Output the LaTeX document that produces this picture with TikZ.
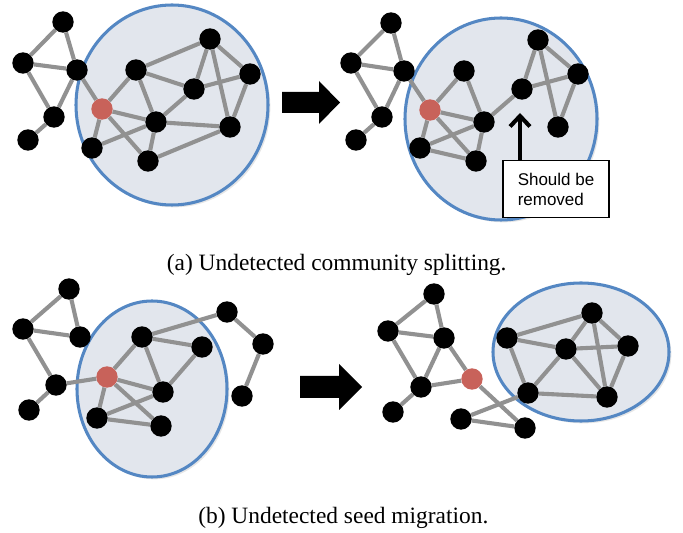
\documentclass[tikz,border=0pt]{standalone}
\usepackage{fontspec}
\setmainfont{Liberation Serif}
\setsansfont{Liberation Sans}
\usepackage{tikz}
\usetikzlibrary{arrows.meta,shadows}
\pgfdeclarelayer{back}
\pgfdeclarelayer{bg}
\pgfsetlayers{back,bg,main}
\definecolor{linkgray}{RGB}{145,145,145}
\definecolor{comfill}{RGB}{226,230,237}
\definecolor{comline}{RGB}{84,135,195}
\definecolor{seedred}{RGB}{200,98,90}
\tikzset{
  vtx/.style={circle,fill=black,inner sep=0pt,minimum size=0.64cm},
  seed/.style={vtx,fill=seedred},
  link/.style={draw=linkgray,line width=3.5pt},
  community/.style={fill=comfill,draw=comline,line width=2.6pt,
    drop shadow={opacity=0.2,shadow xshift=2pt,shadow yshift=-2pt}},
  bigarrow/.style={fill=black},
  upmark/.style={draw=black,line width=3.5pt,-{Straight Barb[length=9pt,width=17pt]}},
  notebox/.style={draw=black,line width=1pt,fill=white,align=left,
    minimum width=3.18cm,minimum height=1.71cm,
    font=\sffamily\fontsize{14.5}{16.5}\selectfont},
  caption/.style={font=\fontsize{20}{24}\selectfont}
}
\begin{document}
\begin{tikzpicture}
        \useasboundingbox (0,0) rectangle (20.49cm,15.99cm);
        % (a) before
        \node (p0) [vtx] at (1.89cm, 15.33cm) {};
        \node (p1) [vtx] at (0.69cm, 14.10cm) {};
        \node (p2) [vtx] at (2.31cm, 13.89cm) {};
        \node (p3) [vtx] at (1.62cm, 12.48cm) {};
        \node (p4) [vtx] at (0.84cm, 11.79cm) {};
        \node (p5) [seed] at (3.06cm, 12.72cm) {};
        \node (p6) [vtx] at (4.08cm, 13.89cm) {};
        \node (p7) [vtx] at (6.30cm, 14.82cm) {};
        \node (p8) [vtx] at (7.50cm, 13.77cm) {};
        \node (p9) [vtx] at (5.82cm, 13.32cm) {};
        \node (p10) [vtx] at (4.68cm, 12.33cm) {};
        \node (p11) [vtx] at (6.90cm, 12.18cm) {};
        \node (p12) [vtx] at (2.76cm, 11.55cm) {};
        \node (p13) [vtx] at (4.44cm, 11.16cm) {};
        % (a) after
        \node (q0) [vtx] at (11.73cm, 15.30cm) {};
        \node (q1) [vtx] at (10.53cm, 14.10cm) {};
        \node (q2) [vtx] at (12.12cm, 13.86cm) {};
        \node (q3) [vtx] at (11.46cm, 12.48cm) {};
        \node (q4) [vtx] at (10.68cm, 11.79cm) {};
        \node (q5) [seed] at (12.90cm, 12.69cm) {};
        \node (q6) [vtx] at (13.92cm, 13.86cm) {};
        \node (q7) [vtx] at (16.14cm, 14.79cm) {};
        \node (q8) [vtx] at (17.34cm, 13.77cm) {};
        \node (q9) [vtx] at (15.66cm, 13.32cm) {};
        \node (q10) [vtx] at (14.52cm, 12.33cm) {};
        \node (q11) [vtx] at (16.74cm, 12.18cm) {};
        \node (q12) [vtx] at (12.60cm, 11.55cm) {};
        \node (q13) [vtx] at (14.28cm, 11.16cm) {};
        \node (rmv) [notebox] at (16.68cm, 10.31cm) {Should be\\removed};
        \coordinate (tip) at (15.60cm, 12.60cm);
        % (b) before
        \node (r0) [vtx] at (2.07cm, 7.32cm) {};
        \node (r1) [vtx] at (0.69cm, 6.12cm) {};
        \node (r2) [vtx] at (2.40cm, 5.88cm) {};
        \node (r3) [vtx] at (1.68cm, 4.44cm) {};
        \node (r4) [vtx] at (0.87cm, 3.69cm) {};
        \node (r5) [seed] at (3.21cm, 4.68cm) {};
        \node (r6) [vtx] at (4.26cm, 5.88cm) {};
        \node (r7) [vtx] at (6.06cm, 5.58cm) {};
        \node (r8) [vtx] at (4.89cm, 4.23cm) {};
        \node (r9) [vtx] at (2.91cm, 3.45cm) {};
        \node (r10) [vtx] at (4.83cm, 3.21cm) {};
        \node (r11) [vtx] at (6.81cm, 6.63cm) {};
        \node (r12) [vtx] at (7.89cm, 5.67cm) {};
        \node (r13) [vtx] at (7.26cm, 4.11cm) {};
        % (b) after
        \node (s0) [vtx] at (13.02cm, 7.17cm) {};
        \node (s1) [vtx] at (11.64cm, 6.06cm) {};
        \node (s2) [vtx] at (13.32cm, 5.85cm) {};
        \node (s3) [vtx] at (12.63cm, 4.38cm) {};
        \node (s4) [vtx] at (11.79cm, 3.63cm) {};
        \node (s5) [seed] at (14.16cm, 4.62cm) {};
        \node (s6) [vtx] at (13.83cm, 3.42cm) {};
        \node (s7) [vtx] at (15.75cm, 3.15cm) {};
        \node (s8) [vtx] at (15.21cm, 5.85cm) {};
        \node (s9) [vtx] at (17.76cm, 6.60cm) {};
        \node (s10) [vtx] at (16.98cm, 5.52cm) {};
        \node (s11) [vtx] at (18.84cm, 5.61cm) {};
        \node (s12) [vtx] at (15.84cm, 4.20cm) {};
        \node (s13) [vtx] at (18.21cm, 4.08cm) {};
        % captions
        \node (capa) [caption] at (10.10cm, 8.04cm) {(a) Undetected community splitting.};
        \node (capb) [caption] at (10.30cm, 0.45cm) {(b) Undetected seed migration.};
        % arrows between panels
        \fill [bigarrow] (8.46cm,13.23cm) -- (9.57cm,13.23cm) -- (9.57cm,13.56cm) -- (10.20cm,12.915cm)
                -- (9.57cm,12.27cm) -- (9.57cm,12.60cm) -- (8.46cm,12.60cm) -- cycle;
        \fill [bigarrow] (9.00cm,4.71cm) -- (10.17cm,4.71cm) -- (10.17cm,5.07cm) -- (10.86cm,4.38cm)
                -- (10.17cm,3.69cm) -- (10.17cm,4.05cm) -- (9.00cm,4.05cm) -- cycle;
        \draw [upmark] (rmv.north -| tip) -- (tip);
        \begin{pgfonlayer}{back}
                \draw [community] (5.16cm, 12.84cm) ellipse [x radius=2.88cm, y radius=3.00cm];
                \draw [community] (15.03cm, 12.42cm) ellipse [x radius=2.88cm, y radius=3.03cm];
                \draw [community] (4.56cm, 4.32cm) ellipse [x radius=2.25cm, y radius=2.64cm];
                \draw [community] (17.43cm, 5.43cm) ellipse [x radius=2.64cm, y radius=2.07cm];
        \end{pgfonlayer}
        \begin{pgfonlayer}{bg}
                \draw [link] (p0) edge (p1) (p0) edge (p2) (p1) edge (p2) (p1) edge (p3);
                \draw [link] (p2) edge (p3) (p3) edge (p4) (p2) edge (p5);
                \draw [link] (p5) edge (p6) (p5) edge (p10) (p5) edge (p12) (p5) edge (p13);
                \draw [link] (p6) edge (p7) (p6) edge (p9) (p6) edge (p10);
                \draw [link] (p7) edge (p9) (p7) edge (p8) (p7) edge (p11) (p9) edge (p8);
                \draw [link] (p9) edge (p10) (p10) edge (p11) (p10) edge (p13) (p10) edge (p12);
                \draw [link] (p13) edge (p11) (p8) edge (p11);
                \draw [link] (q0) edge (q1) (q0) edge (q2) (q1) edge (q2) (q1) edge (q3);
                \draw [link] (q2) edge (q3) (q3) edge (q4) (q2) edge (q5);
                \draw [link] (q5) edge (q6) (q5) edge (q10) (q5) edge (q12) (q5) edge (q13);
                \draw [link] (q6) edge (q10) (q12) edge (q10) (q12) edge (q13) (q10) edge (q13);
                \draw [link] (q10) edge (q9) (q9) edge (q7) (q9) edge (q8);
                \draw [link] (q7) edge (q8) (q7) edge (q11) (q8) edge (q11);
                \draw [link] (r0) edge (r1) (r0) edge (r2) (r1) edge (r2) (r1) edge (r3);
                \draw [link] (r3) edge (r4) (r3) edge (r5);
                \draw [link] (r5) edge (r6) (r5) edge (r8) (r5) edge (r9) (r5) edge (r10);
                \draw [link] (r6) edge (r7) (r6) edge (r8) (r7) edge (r8);
                \draw [link] (r6) edge (r11) (r11) edge (r12) (r12) edge (r13);
                \draw [link] (r9) edge (r8) (r9) edge (r10);
                \draw [link] (s0) edge (s1) (s0) edge (s2) (s1) edge (s2) (s1) edge (s3);
                \draw [link] (s2) edge (s3) (s3) edge (s4) (s3) edge (s5) (s2) edge (s5);
                \draw [link] (s5) edge (s7) (s6) edge (s7) (s6) edge (s12);
                \draw [link] (s8) edge (s9) (s8) edge (s10) (s8) edge (s12);
                \draw [link] (s9) edge (s10) (s9) edge (s11) (s9) edge (s13);
                \draw [link] (s10) edge (s11) (s10) edge (s12) (s10) edge (s13);
                \draw [link] (s11) edge (s13) (s12) edge (s13);
        \end{pgfonlayer}
\end{tikzpicture}
\end{document}
